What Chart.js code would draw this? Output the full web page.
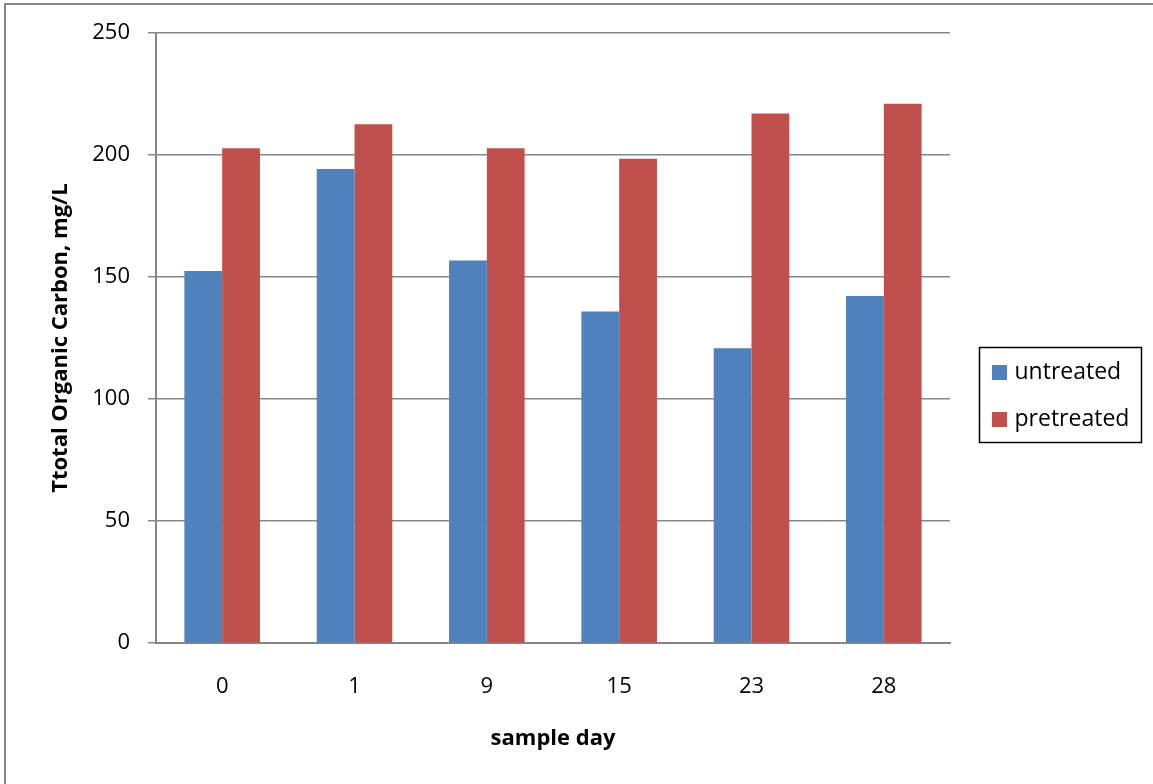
<!DOCTYPE html>
<html>
<head>
<meta charset="utf-8">
<script src="https://cdn.jsdelivr.net/npm/chart.js@4/dist/chart.umd.min.js"></script>
<style>
  html, body { margin: 0; padding: 0; background: #fff; }
  #wrap { position: relative; width: 1153px; height: 784px; }
  #frame { position: absolute; left: 4px; top: 3px; right: -10px; bottom: -10px;
           border-left: 2px solid #868686; border-top: 2px solid #868686; pointer-events: none; }
</style>
</head>
<body>
<div id="wrap">
  <canvas id="c" width="1153" height="784"></canvas>
  <div id="frame"></div>
</div>
<script>
const categories = ['0', '1', '9', '15', '23', '28'];
const untreated = [152.5, 194.3, 156.8, 135.9, 120.8, 142.2];
const pretreated = [202.8, 212.6, 202.8, 198.5, 217.0, 221.0];
const seriesNames = ['untreated', 'pretreated'];
const yTitle = 'Ttotal Organic Carbon, mg/L';
const xTitle = 'sample day';

const FONT = "'Open Sans', 'Liberation Sans', sans-serif";
const GRID = '#868686';

const boxLegend = {
  id: 'boxLegend',
  afterDraw(chart) {
    const ctx = chart.ctx;
    const a = chart.chartArea;
    const left = a.right + 29.5, top = 347.5, w = 162, h = 95;
    ctx.save();
    ctx.strokeStyle = '#000';
    ctx.lineWidth = 1.5;
    ctx.strokeRect(left, top, w, h);
    ctx.font = '23px ' + FONT;
    ctx.textBaseline = 'middle';
    ctx.textAlign = 'left';
    chart.data.datasets.forEach((ds, i) => {
      const cy = top + 25 + i * 47;
      ctx.fillStyle = ds.backgroundColor;
      ctx.fillRect(left + 12.5, cy - 7.5, 15, 15);
      ctx.fillStyle = '#000';
      ctx.fillText(ds.label, left + 35, cy);
    });
    ctx.restore();
  }
};

new Chart(document.getElementById('c'), {
  type: 'bar',
  data: {
    labels: categories,
    datasets: [
      { label: seriesNames[0], data: untreated, backgroundColor: '#4F81BD', borderWidth: 0 },
      { label: seriesNames[1], data: pretreated, backgroundColor: '#C0504D', borderWidth: 0 }
    ]
  },
  options: {
    responsive: false,
    animation: false,
    devicePixelRatio: 1,
    layout: { padding: { left: 40, top: 33, right: 203, bottom: 28 } },
    datasets: { bar: { categoryPercentage: 0.571, barPercentage: 1.0 } },
    plugins: { legend: { display: false }, tooltip: { enabled: false } },
    scales: {
      x: {
        grid: { display: false, drawTicks: true, tickLength: 14 },
        border: { display: true, color: GRID, width: 2 },
        ticks: { color: '#000', font: { family: FONT, size: 22 }, padding: 16, maxRotation: 0 },
        title: { display: true, text: xTitle, color: '#000',
                 font: { family: FONT, size: 22, weight: 'bold' }, padding: { top: 10, bottom: 4 } }
      },
      y: {
        min: 0, max: 250,
        afterFit(scale) { scale.width = 116; },
        grid: { color: GRID, lineWidth: 1.5, tickLength: 8, drawTicks: true },
        border: { display: true, color: GRID, width: 2 },
        ticks: { stepSize: 50, color: '#000', font: { family: FONT, size: 22 }, padding: 18 },
        title: { display: true, text: yTitle, color: '#000',
                 font: { family: FONT, size: 22, weight: 'bold' }, padding: { top: 8, bottom: 4 } }
      }
    }
  },
  plugins: [boxLegend]
});
</script>
</body>
</html>
